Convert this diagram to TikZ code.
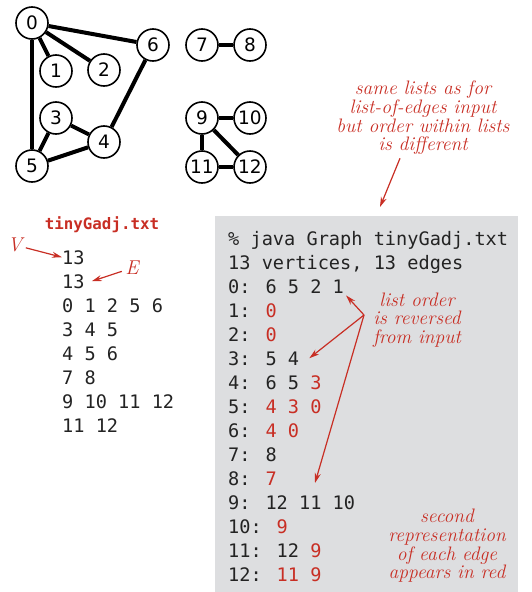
\documentclass[tikz,border=0pt]{standalone}
\usepackage{fontspec}
\usetikzlibrary{arrows.meta,positioning}
\newfontfamily\codefont{DejaVu Sans Mono}
\newfontfamily\vertexfont{DejaVu Sans}
\definecolor{notered}{RGB}{200,46,36}
\definecolor{panelgray}{RGB}{221,222,224}
\definecolor{codeblack}{RGB}{35,35,35}
\newcommand{\rd}[1]{\textcolor{notered}{#1}}

\begin{document}
\begin{tikzpicture}[
  x=1pt, y=-1pt,
  vertex/.style={draw, circle, line width=1.6pt, fill=white, minimum size=32pt, inner sep=0pt, font=\vertexfont\fontsize{18.5}{18.5}\selectfont},
  edge/.style={line width=4pt},
  code/.style={anchor=base west, inner sep=0pt, font=\codefont\fontsize{18.6}{24}\selectfont, text=codeblack},
  note/.style={align=center, text=notered, font=\fontsize{19.5}{18.6}\selectfont\itshape},
  pointer/.style={->, draw=notered, line width=1.2pt},
  >={Stealth[length=10pt,width=6pt]}
]
\useasboundingbox (0,0) rectangle (532,592);
\fill[panelgray] (215,216) rectangle (518,592);

\foreach \n/\x/\y in {0/32/23,1/56/71,2/104/70,3/56/118,4/104/142,5/32/166,6/153/45,7/202/45,8/250/45,9/202/118,10/250/118,11/202/167,12/250/167}
  \node[vertex] (v\n) at (\x,\y) {\n};
\foreach \a/\b in {v0/v1,v0/v2,v0/v5,v0/v6,v3/v4,v3/v5,v4/v5,v4/v6,v7/v8,v9/v10,v9/v11,v9/v12,v11/v12}
  \draw[edge] (\a) -- (\b);

\node[text=notered, font=\codefont\bfseries\fontsize{15.8}{16}\selectfont] (title) at (102,225) {tinyGadj.txt};
\foreach \t [count=\i] in {13,13,0 1 2 5 6,3 4 5,4 5 6,7 8,9 10 11 12,11 12}
  \node[code] (f\i) at (62,240+24*\i) {\t};
\node[text=notered, font=\fontsize{20}{20}\selectfont\itshape] (V) at (15,245) {V};
\node[text=notered, font=\fontsize{20}{20}\selectfont\itshape] (E) at (132,268) {E};
\draw[pointer] (V) -- (f1.west);
\draw[pointer] (E) -- ([xshift=7pt]f2.east);

\foreach \t [count=\i] in {\% java Graph tinyGadj.txt,{13 vertices, 13 edges},0: 6 5 2 1,1: \rd{0},2: \rd{0},3: 5 4,4: 6 5 \rd{3},5: \rd{4 3 0},6: \rd{4 0},7: 8,8: \rd{7},9: 12 11 10,10: \rd{9},11: 12 \rd{9},12: \rd{11 9}}
  \node[code] (r\i) at (228,221+24*\i) {\t};

\node[note] (same) at (423,118) {same lists as for\\list-of-edges input\\but order within lists\\is different};
\node[note] (reversed) at (417,320) {list order\\is reversed\\from input};
\node[note] (second) at (447,546) {second\\representation\\of each edge\\appears in red};

\coordinate (down) at (380,207);
\coordinate (fork) at (364,315);
\coordinate (tip9) at (315,483);
\draw[pointer] ([xshift=-23pt]same.south) -- (down);
\draw[pointer] (fork) -- ([xshift=2pt,yshift=-2pt]r3.south east);
\draw[pointer] (fork) -- ([xshift=10pt]r6.east);
\draw[pointer] (fork) -- (tip9);
\end{tikzpicture}
\end{document}
